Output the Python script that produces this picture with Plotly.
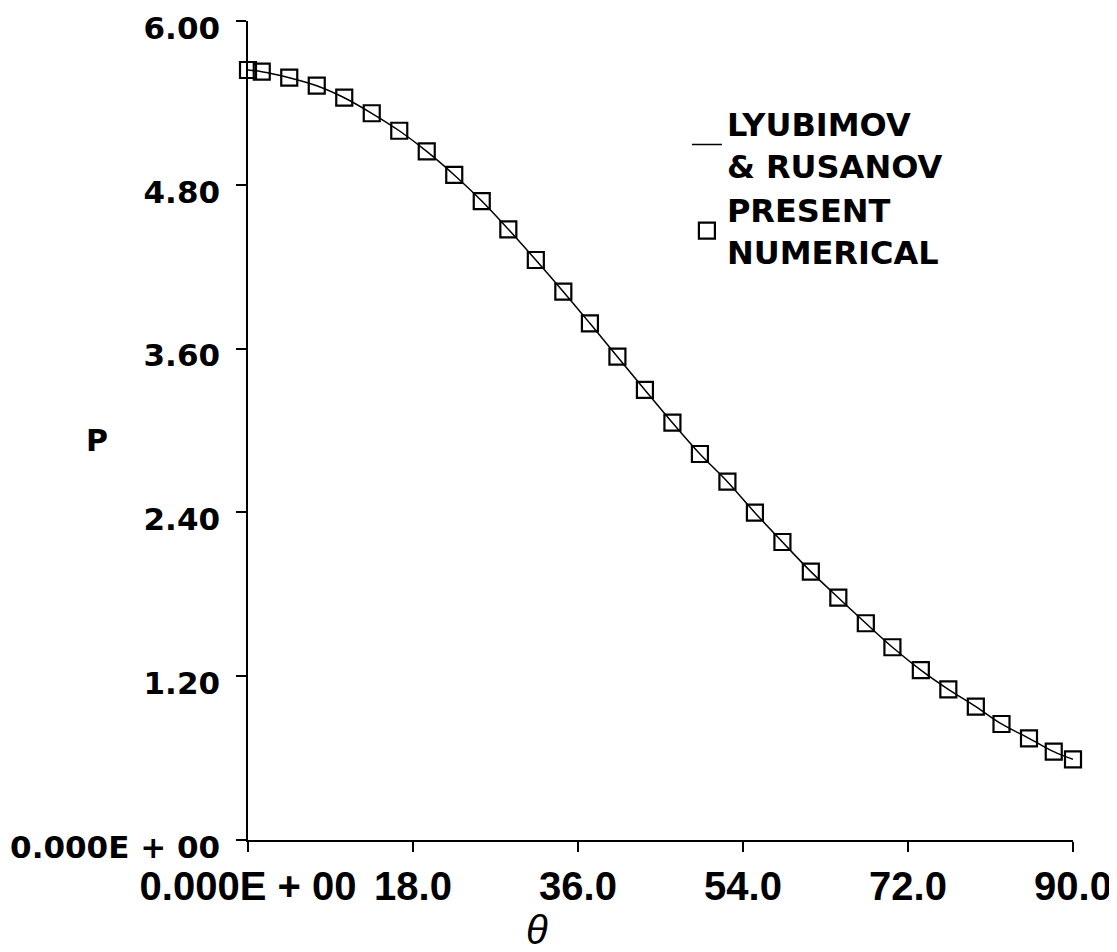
import plotly.graph_objects as go

# Data
theta = [0.0, 1.5, 4.5, 7.5, 10.5, 13.5, 16.5, 19.5, 22.5, 25.5, 28.4, 31.4,
         34.4, 37.3, 40.3, 43.3, 46.3, 49.3, 52.3, 55.3, 58.3, 61.4, 64.4,
         67.4, 70.3, 73.4, 76.4, 79.4, 82.2, 85.2, 87.9, 90.0]
p_numerical = [5.641, 5.629, 5.585, 5.526, 5.438, 5.324, 5.196, 5.045, 4.872,
               4.681, 4.474, 4.249, 4.017, 3.785, 3.541, 3.297, 3.057, 2.828,
               2.625, 2.398, 2.183, 1.966, 1.775, 1.588, 1.412, 1.245, 1.104,
               0.977, 0.850, 0.745, 0.647, 0.591]
theta_lr = theta
p_lr = p_numerical

x_tickvals = [0, 18, 36, 54, 72, 90]
x_ticktext = ["0.000E + 00", "18.0", "36.0", "54.0", "72.0", "90.0"]
y_tickvals = [0, 1.2, 2.4, 3.6, 4.8, 6.0]
y_ticktext = ["0.000E + 00", "1.20", "2.40", "3.60", "4.80", "6.00"]

fig = go.Figure()
fig.add_trace(go.Scatter(
    x=theta_lr, y=p_lr, mode="lines", line=dict(color="black", width=1.5, shape="spline"),
    name="LYUBIMOV<br>& RUSANOV", cliponaxis=False))
fig.add_trace(go.Scatter(
    x=theta, y=p_numerical, mode="markers",
    marker=dict(symbol="square-open", size=16, color="black", line=dict(width=2.2, color="black")),
    name="PRESENT<br>NUMERICAL", cliponaxis=False))

fig.update_layout(
    width=1117, height=952,
    margin=dict(l=240, r=52, t=13, b=120, autoexpand=False),
    plot_bgcolor="white", paper_bgcolor="white",
    showlegend=True,
    legend=dict(x=0.532, y=0.908, xanchor="left", yanchor="top",
                font=dict(family="DejaVu Sans", size=32, color="black", weight="bold"),
                bgcolor="rgba(0,0,0,0)", itemwidth=30, tracegroupgap=0),
    xaxis=dict(range=[0, 90], tickvals=x_tickvals, ticktext=x_ticktext, automargin=False,
               showgrid=False, zeroline=False, showline=True, linecolor="black", linewidth=1.5,
               ticks="outside", ticklen=10, tickwidth=1.5, tickcolor="black",
               ticklabeloverflow="allow",
               tickfont=dict(family="Liberation Sans, Arial", size=40, color="black", weight="bold")),
    yaxis=dict(range=[0, 6], tickvals=y_tickvals, ticktext=y_ticktext, automargin=False,
               showgrid=False, zeroline=False, showline=True, linecolor="black", linewidth=1.5,
               ticks="outside", ticklen=10, tickwidth=1.5, tickcolor="black",
               ticklabelstandoff=10, ticklabelshift=7, ticklabeloverflow="allow",
               tickfont=dict(family="DejaVu Sans", size=31, color="black", weight="bold")),
    annotations=[
        dict(text="P", x=-0.183, y=0.488, xref="paper", yref="paper", showarrow=False,
             xanchor="center", yanchor="middle",
             font=dict(family="DejaVu Sans", size=30, color="black", weight="bold")),
        dict(text="θ", x=0.350, y=-0.110, xref="paper", yref="paper", showarrow=False,
             xanchor="center", yanchor="middle",
             font=dict(family="Liberation Sans, Arial", size=40, color="black", style="italic")),
    ],
)

fig.write_html("out.html")
